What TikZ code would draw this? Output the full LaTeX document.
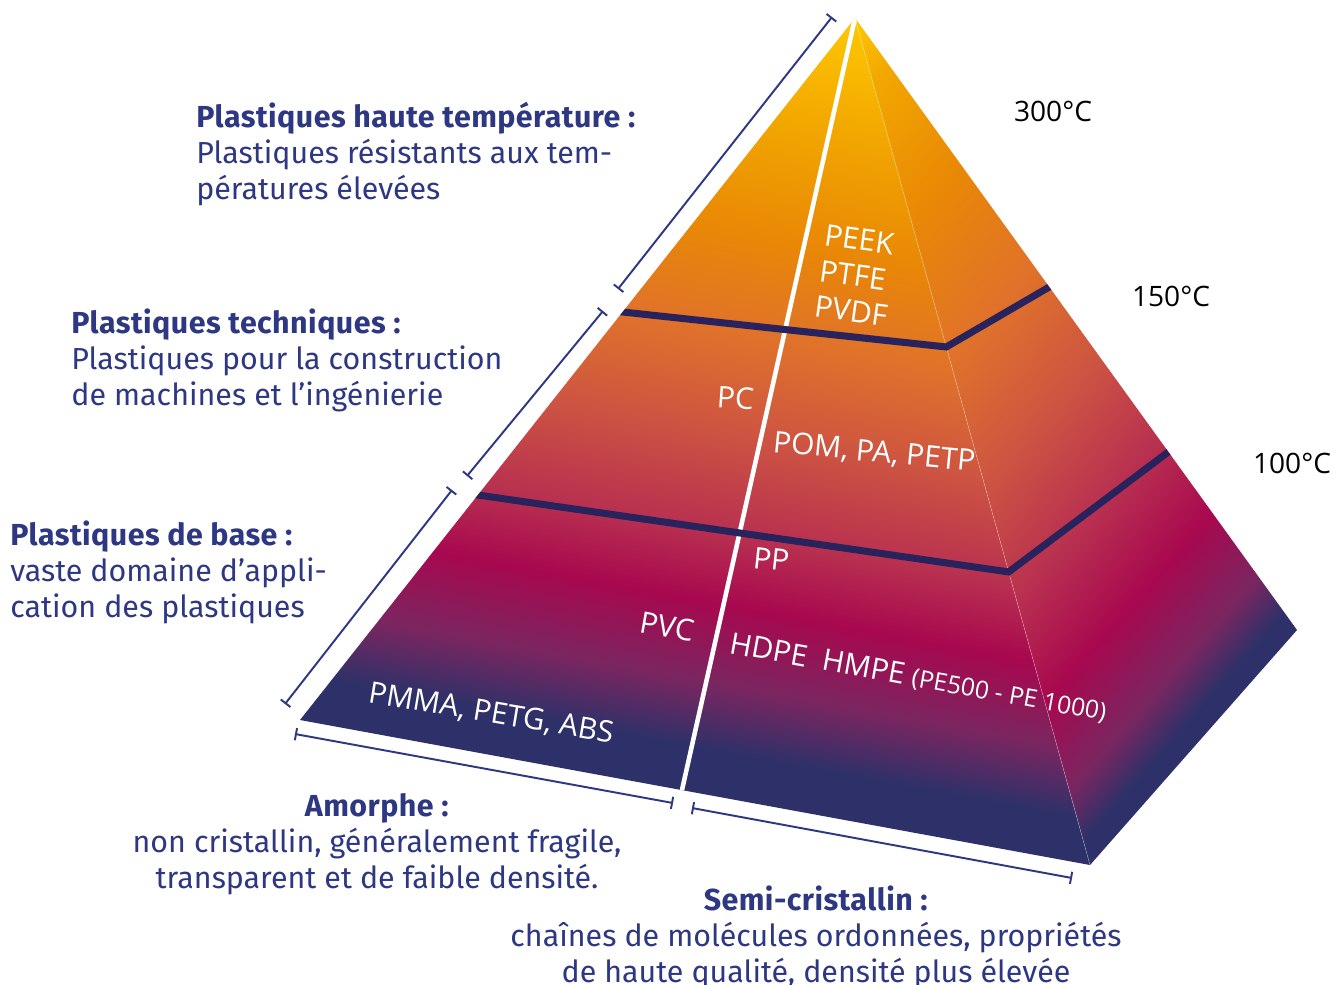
\documentclass[tikz,border=0pt]{standalone}
\usepackage{fontspec}
\setmainfont{Fira Sans}[BoldFeatures={LetterSpace=1.5}]
\newfontfamily\tagfont{Open Sans}
\usetikzlibrary{arrows.meta,calc}

\definecolor{textblue}{RGB}{45,55,130}
\definecolor{bandblue}{RGB}{40,35,92}
\definecolor{shnavy}{RGB}{46,49,105}
\definecolor{shpurple}{RGB}{122,38,96}
\definecolor{shmagenta}{RGB}{168,8,79}
\definecolor{shcrimson}{RGB}{184,48,80}
\definecolor{shred}{RGB}{205,84,66}
\definecolor{shorange}{RGB}{224,114,42}
\definecolor{shamber}{RGB}{233,136,5}
\definecolor{shgold}{RGB}{242,168,0}
\definecolor{shyellow}{RGB}{255,200,0}

% colour ramps of the two faces (25bp = bottom edge, 75bp = apex level)
\pgfdeclareverticalshading{frontshade}{100bp}{color(0bp)=(shnavy); color(27.8bp)=(shnavy); color(31.9bp)=(shpurple); color(36.9bp)=(shmagenta); color(41.3bp)=(shcrimson); color(47.5bp)=(shred); color(53.8bp)=(shorange); color(60bp)=(shamber); color(67.5bp)=(shgold); color(74.5bp)=(shyellow); color(100bp)=(shyellow)}
\pgfdeclareverticalshading{sideshade}{100bp}{color(0bp)=(shnavy); color(26.4bp)=(shnavy); color(29.4bp)=(shpurple); color(34.5bp)=(shmagenta); color(40.5bp)=(shcrimson); color(47.3bp)=(shred); color(54.7bp)=(shorange); color(62.8bp)=(shamber); color(71bp)=(shgold); color(74.7bp)=(shyellow); color(100bp)=(shyellow)}

\begin{document}
\begin{tikzpicture}[x=0.02cm, y=-0.02cm,
    heading/.style={text=textblue, align=left, inner sep=0pt, font=\fontsize{17.3}{20.5}\selectfont},
    caption/.style={heading, align=center},
    templabel/.style={inner sep=0pt, font=\tagfont\fontsize{16}{19}\selectfont},
    plastic/.style={text=white, inner sep=0pt, anchor=base west, font=\tagfont\fontsize{17}{20}\selectfont},
    band/.style={draw=bandblue, line width=4pt, line join=miter},
    bracket/.style={draw=textblue, line width=1.1pt, arrows={Bar[width=7pt]-Bar[width=7pt]}}
]

\useasboundingbox[fill=white] (0,0) rectangle (1334,984);

% Pyramid corners
\coordinate (apex) at (855,18);
\coordinate (lcorner) at (300,720);
\coordinate (fcorner) at (1090,865);
\coordinate (rcorner) at (1297,630);

% Temperature levels
\coordinate (hl) at ($(apex)!0.4188!(lcorner)$);
\coordinate (hm) at ($(apex)!0.3884!(fcorner)$);
\coordinate (hr) at ($(apex)!0.4395!(rcorner)$);
\coordinate (bl) at ($(apex)!0.6795!(lcorner)$);
\coordinate (bm) at ($(apex)!0.654!(fcorner)$);
\coordinate (br) at ($(apex)!0.709!(rcorner)$);
\coordinate (split) at ($(lcorner)!0.4835!(fcorner)$);

% Front face
\begin{scope}
  \clip (apex) -- (lcorner) -- (fcorner) -- cycle;
  \begin{scope}[transform canvas={rotate around={-10.4:(fcorner)}}]
    \shade[shading=frontshade] (150,65) rectangle (1250,865);
  \end{scope}
\end{scope}

% Side face
\begin{scope}
  \clip (apex) -- (fcorner) -- (rcorner) -- cycle;
  \begin{scope}[transform canvas={rotate around={48.6:(fcorner)}}]
    \shade[shading=sideshade] (1000,125) rectangle (1650,865);
  \end{scope}
\end{scope}

\draw[white, opacity=0.4, line width=0.3pt] (apex) -- (fcorner);

% Divider and level lines
\begin{scope}
  \clip (apex) -- (lcorner) -- (fcorner) -- (rcorner) -- cycle;
  \draw[white, line width=2.6pt] (apex) -- (split);
  \draw[band] ($(hm)!1.04!(hl)$) -- (hm) -- ($(hm)!1.04!(hr)$);
  \draw[band] ($(bm)!1.04!(bl)$) -- (bm) -- ($(bm)!1.04!(br)$);
\end{scope}

% Brackets
\coordinate (hightop) at (832,17);
\coordinate (highbot) at (618,289);
\coordinate (techtop) at (603,311);
\coordinate (techbot) at (467,476);
\coordinate (basetop) at (452,490);
\coordinate (basebot) at (285,704);
\coordinate (amleft) at (295,734);
\coordinate (amright) at (673,803);
\coordinate (semileft) at (692,808);
\coordinate (semiright) at (1072,878);
\draw[bracket] (hightop) -- (highbot);
\draw[bracket] (techtop) -- (techbot);
\draw[bracket] (basetop) -- (basebot);
\draw[bracket] (amleft) -- (amright);
\draw[bracket] (semileft) -- (semiright);

% Plastics on the faces
\node[plastic, rotate=-8] (peek) at (823,245) {PEEK};
\node[plastic, rotate=-8] (ptfe) at (818,281) {PTFE};
\node[plastic, rotate=-8] (pvdf) at (813,316) {PVDF};
\node[plastic, rotate=-4] (pc) at (716,407) {PC};
\node[plastic, rotate=-5.5] (pom) at (772,452) {POM, PA, PETP};
\node[plastic, rotate=-6] (pp) at (752,568) {PP};
\node[plastic, rotate=-10] (pvc) at (638,632) {PVC};
\node[plastic, rotate=-9.5] (pmma) at (367,702) {PMMA, PETG, ABS};
\node[plastic, rotate=-10.2] (hdpe) at (728,653) {HDPE\ \ HMPE {\fontsize{14}{16}\selectfont(PE500 - PE 1000)}};

% Temperatures
\node[templabel] (t300) at (1053,111) {300°C};
\node[templabel] (t150) at (1171,296) {150°C};
\node[templabel] (t100) at (1292,463) {100°C};

% Descriptions
\node[heading, anchor=north west] (hightemp) at (196,102) {\textbf{Plastiques haute température :}\\Plastiques résistants aux tem-\\pératures élevées};
\node[heading, anchor=north west] (technical) at (71,308) {\textbf{Plastiques techniques :}\\Plastiques pour la construction\\de machines et l’ingénierie};
\node[heading, anchor=north west] (basic) at (10,520) {\textbf{Plastiques de base :}\\vaste domaine d’appli-\\cation des plastiques};
\node[caption, anchor=north] (amorph) at (377,793) {\textbf{Amorphe :}\\non cristallin, généralement fragile,\\transparent et de faible densité.};
\node[caption, anchor=north] (semicryst) at (816,885) {\textbf{Semi-cristallin :}\\chaînes de molécules ordonnées, propriétés\\de haute qualité, densité plus élevée};

\end{tikzpicture}
\end{document}
